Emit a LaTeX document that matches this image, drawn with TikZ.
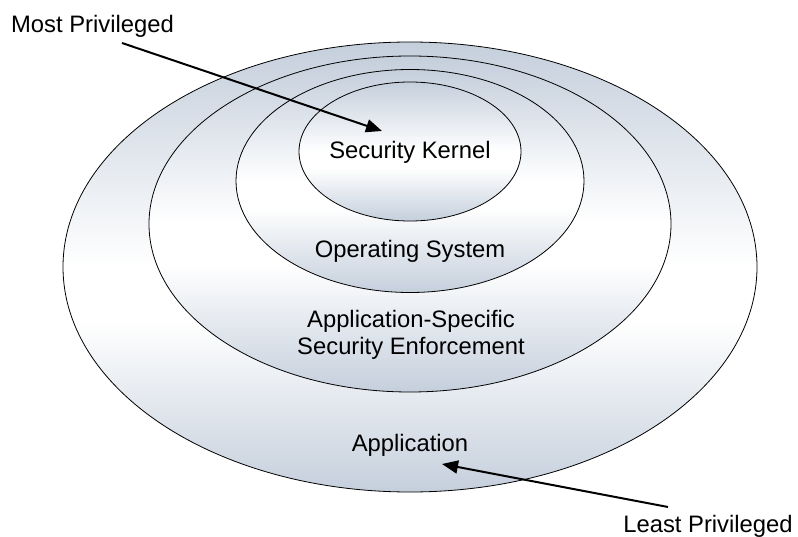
\documentclass[tikz,border=0pt]{standalone}
\usepackage{fontspec}
\setmainfont{Liberation Sans}
\usetikzlibrary{shapes.geometric,arrows.meta}
\definecolor{bandgray}{HTML}{C5CFDC}
\pgfdeclareverticalshading{bands}{100bp}{color(0bp)=(bandgray); color(25bp)=(bandgray); color(44bp)=(white); color(50bp)=(white); color(75bp)=(bandgray); color(100bp)=(bandgray)}
\tikzset{
  ring/.style={ellipse, draw=black, line width=0.8pt, shading=bands, inner sep=0pt},
  lbl/.style={font=\fontsize{23.8}{28}\selectfont, inner sep=0pt, anchor=base, align=center},
  pointer/.style={line width=2pt, -{Triangle[length=16pt,width=13pt]}}
}
\begin{document}
\begin{tikzpicture}[x=1pt,y=-1pt]
\useasboundingbox (0,0) rectangle (798,537);
\node[ring, minimum width=694pt, minimum height=450pt] (app) at (410,267) {};
\node[ring, minimum width=522pt, minimum height=336pt] (ase) at (410,224) {};
\node[ring, minimum width=348pt, minimum height=223pt] (os) at (410,181) {};
\node[ring, minimum width=222pt, minimum height=139pt] (sk) at (410,151.5) {};
\node[lbl] (tsk) at (410,159) {Security Kernel};
\node[lbl] (tos) at (410,258) {Operating System};
\node[lbl] (tase) at (411,355) {Application-Specific\\Security Enforcement};
\node[lbl] (tapp) at (410,451) {Application};
\node[lbl] (most) at (92.5,33) {Most Privileged};
\node[lbl] (least) at (708,532) {Least Privileged};
\coordinate (mstart) at (122,43);
\coordinate (mtip) at (382,131);
\coordinate (lstart) at (668,507);
\coordinate (ltip) at (442,464);
\draw[pointer] (mstart) -- (mtip);
\draw[pointer] (lstart) -- (ltip);
\end{tikzpicture}
\end{document}
